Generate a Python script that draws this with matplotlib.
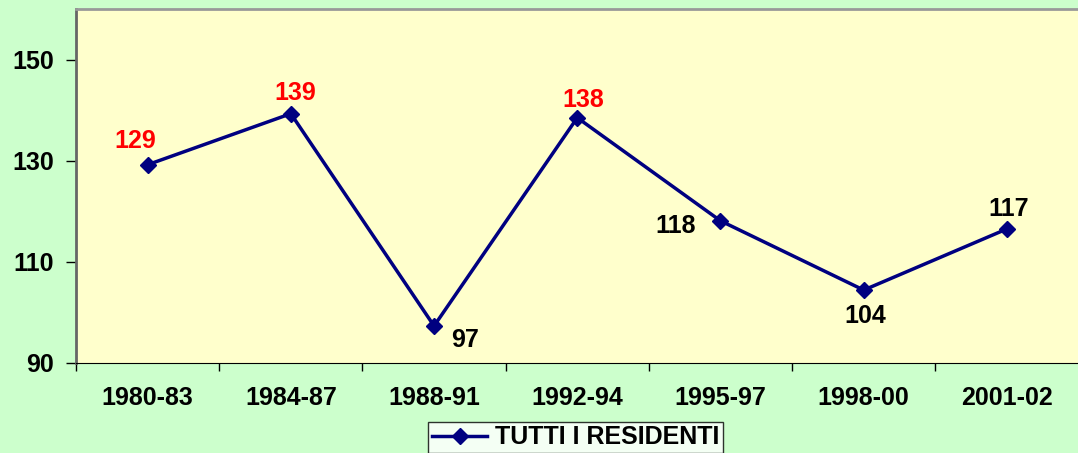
import matplotlib.pyplot as plt
import numpy as np

# data
periods = ['1980-83', '1984-87', '1988-91', '1992-94', '1995-97', '1998-00', '2001-02']
values = [129.2, 139.3, 97.3, 138.5, 118.1, 104.4, 116.5]
labels = ['129', '139', '97', '138', '118', '104', '117']
label_colors = ['red', 'red', 'black', 'red', 'black', 'black', 'black']
series_name = 'TUTTI I RESIDENTI'

plt.rcParams['font.family'] = ['Liberation Sans', 'DejaVu Sans']
plt.rcParams['font.weight'] = 'bold'

fig = plt.figure(figsize=(10.78, 4.53), dpi=100, facecolor='#CCFFCC')
ax = fig.add_axes([0.0705, 0.199, 0.93, 0.781], facecolor='#FFFFCC')

x = np.arange(len(periods))
line, = ax.plot(x, values, color='#000080', lw=2.5, marker='D', ms=8.5,
                label=series_name)

ax.set_xlim(-0.5, len(periods) - 0.5)
ax.set_ylim(90, 160)
ax.set_yticks([90, 110, 130, 150])
ax.set_xticks(x)
ax.set_xticklabels(periods)
ax.set_xticks(np.arange(-0.5, len(periods)), minor=True)

ax.tick_params(axis='x', which='major', length=0, pad=17, labelsize=18)
ax.tick_params(axis='x', which='minor', length=6, width=1, direction='out')
ax.tick_params(axis='y', length=7, width=1, pad=9, labelsize=18)

ax.spines['top'].set_color('#999999')
ax.spines['top'].set_linewidth(2)
ax.spines['left'].set_color('#666666')
ax.spines['left'].set_linewidth(2)
ax.spines['bottom'].set_color('black')
ax.spines['right'].set_visible(False)

# data labels: offsets in points
offsets = [(-9, 17), (3, 15), (22, -10), (4, 13), (-32, -4), (1, -19), (1, 14)]
for xi, v, lab, c, off in zip(x, values, labels, label_colors, offsets):
    ax.annotate(lab, (xi, v), xytext=off, textcoords='offset points',
                ha='center', va='center', color=c, fontsize=18, fontweight='bold')

leg = fig.legend(handles=[line], loc='lower center', bbox_to_anchor=(0.534, 0.0),
                 frameon=True, fancybox=False, edgecolor='black',
                 prop={'size': 18, 'weight': 'bold'}, borderpad=0.15,
                 handlelength=2.2, handletextpad=0.3, borderaxespad=0)
leg.get_frame().set_linewidth(1)

fig.savefig('out.png', dpi=100, facecolor=fig.get_facecolor())
